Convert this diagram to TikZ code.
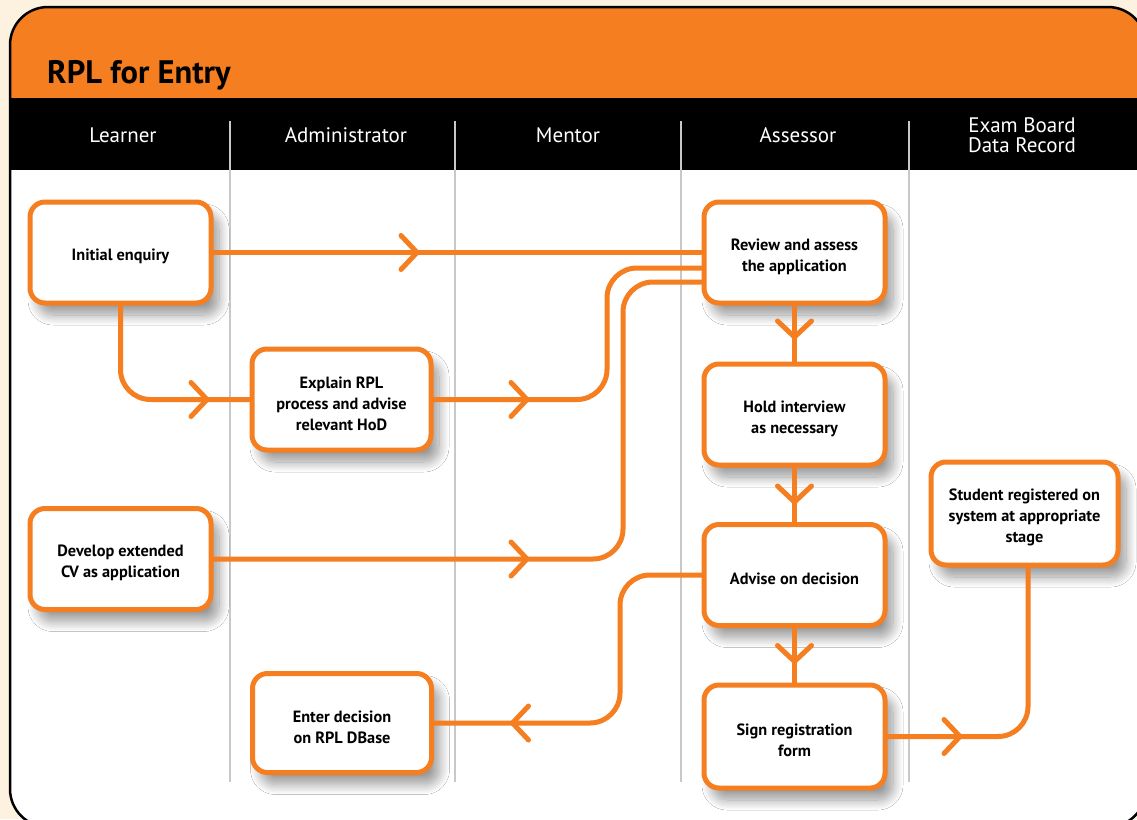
\documentclass[tikz,border=0pt]{standalone}
\usepackage{fontspec}
\setmainfont{PT Sans}
\usetikzlibrary{decorations.markings,shadows.blur,calc}
\definecolor{rplorange}{RGB}{244,126,32}
\definecolor{cream}{RGB}{253,242,224}
\definecolor{lanegray}{RGB}{200,200,200}
\newcommand\boxstrut{\rule{0pt}{19.5pt}}
\tikzset{
  stepbox/.style={draw=rplorange, line width=5pt, fill=white, rounded corners=15pt,
    minimum width=181pt, minimum height=101pt, outer sep=0pt, align=center,
    font=\bfseries\fontsize{16.3}{21}\selectfont,
    blur shadow={shadow xshift=8pt, shadow yshift=-12pt, shadow blur radius=10pt, shadow blur steps=14, shadow opacity=40}},
  flow/.style={draw=rplorange, line width=5pt, rounded corners=30pt},
  lane/.style={draw=lanegray, line width=2.5pt},
  hdr/.style={text=white, font=\fontsize{21}{20}\selectfont, align=center},
  chev/.style={postaction={decorate, decoration={markings, mark=at position #1 with {\draw[rplorange, line width=5pt, line cap=round, line join=round, sharp corners] (-16pt,17pt) -- (0pt,0pt) -- (-16pt,-17pt);}}}}
}
\begin{document}
\begin{tikzpicture}[x=1pt,y=-1pt]
\useasboundingbox (0,0) rectangle (1137,819);
\fill[cream] (0,0) rectangle (1137,819);
\begin{scope}
  \clip[rounded corners=38pt] (10,7) rectangle (1146,827);
  \fill[white] (10,7) rectangle (1146,827);
  \fill[rplorange] (10,7) rectangle (1146,98);
  \fill[black] (10,98) rectangle (1146,170);
\end{scope}
\draw[line width=2.5pt, rounded corners=38pt] (10,7) rectangle (1146,827);

\node[anchor=base west, inner sep=0pt, font=\bfseries\fontsize{32.5}{36}\selectfont] (title) at (47,83) {RPL for Entry};

\node[hdr] (hlearner) at (123,135) {Learner};
\node[hdr] (hadmin) at (346,135) {Administrator};
\node[hdr] (hmentor) at (568,135) {Mentor};
\node[hdr] (hassess) at (798,135) {Assessor};
\node[hdr] (hexam) at (1022,135.5) {Exam Board\\Data Record};

\foreach \x in {230,455,681,909} \draw[lane] (\x,121) -- (\x,782);

\node[stepbox] (init) at (120.5,252.5) {\boxstrut Initial enquiry};
\node[stepbox, minimum width=179pt] (explain) at (341.5,399.5) {\boxstrut Explain RPL\\process and advise\\relevant HoD};
\node[stepbox] (develop) at (120.5,559) {\boxstrut Develop extended\\CV as application};
\node[stepbox, minimum width=179pt, minimum height=99pt] (enter) at (342,723) {\boxstrut Enter decision\\on RPL DBase};
\node[stepbox] (review) at (794.5,252.5) {\boxstrut Review and assess\\the application};
\node[stepbox] (hold) at (794.5,414.5) {\boxstrut Hold interview\\as necessary};
\node[stepbox] (advise) at (794.5,575) {\boxstrut Advise on decision};
\node[stepbox, minimum height=103pt] (sign) at (794.5,736.5) {\boxstrut Sign registration\\form};
\node[stepbox, minimum width=187pt, minimum height=103pt] (student) at (1024.5,513.5) {\boxstrut Student registered on\\system at appropriate\\stage};

\coordinate (r2) at ([yshift=-15.5pt]review.west);
\coordinate (r3) at ([yshift=-29.5pt]review.west);
\coordinate (s1) at ([xshift=3.5pt]student.south);

\draw[flow, chev=206pt] (init.east) -- (review.west);
\draw[flow, chev=-45pt] (init.south) |- (explain.west);
\draw[flow, chev=96pt] (explain.east) -- ++(176,0) |- (r2);
\draw[flow, chev=316pt] (develop.east) -- ++(412,0) |- (r3);
\draw[flow, chev=34pt] (review.south) -- (hold.north);
\draw[flow, chev=37pt] (hold.south) -- (advise.north);
\draw[flow, chev=36pt] (advise.south) -- (sign.north);
\draw[flow, chev=-81pt] (advise.west) -- ++(-84,0) |- (enter.east);
\draw[flow, chev=75pt] (sign.east) -| (s1);
\end{tikzpicture}
\end{document}
